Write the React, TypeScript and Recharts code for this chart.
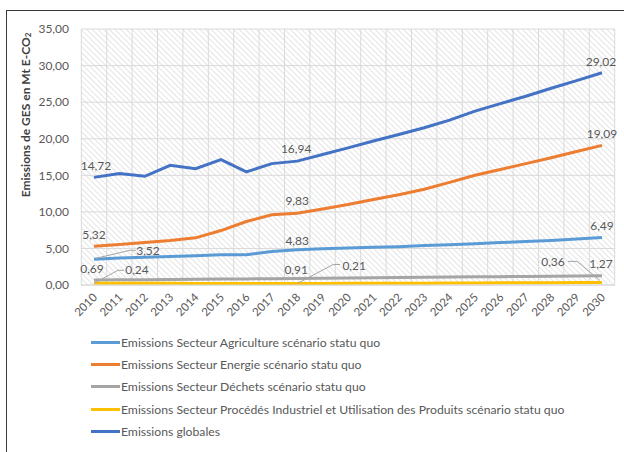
import React from 'react';
import { LineChart, Line, XAxis, YAxis, CartesianGrid, Legend, LabelList, Label } from 'recharts';

const years = [
  '2010', '2011', '2012', '2013', '2014', '2015', '2016', '2017', '2018', '2019', '2020',
  '2021', '2022', '2023', '2024', '2025', '2026', '2027', '2028', '2029', '2030',
];
const agriculture = [3.52, 3.7, 3.8, 3.9, 4.0, 4.15, 4.15, 4.6, 4.83, 4.95, 5.05, 5.15, 5.25, 5.4, 5.5, 5.65, 5.8, 5.95, 6.1, 6.3, 6.49];
const energie = [5.32, 5.53, 5.8, 6.08, 6.45, 7.45, 8.68, 9.6, 9.83, 10.4, 11.0, 11.7, 12.35, 13.1, 14.03, 15.0, 15.8, 16.6, 17.4, 18.25, 19.09];
const dechets = [0.69, 0.72, 0.74, 0.77, 0.79, 0.82, 0.84, 0.87, 0.91, 0.94, 0.97, 1.0, 1.03, 1.06, 1.09, 1.12, 1.15, 1.18, 1.21, 1.24, 1.27];
const procedes = [0.24, 0.24, 0.23, 0.23, 0.22, 0.22, 0.22, 0.21, 0.21, 0.22, 0.23, 0.24, 0.25, 0.26, 0.27, 0.28, 0.3, 0.31, 0.32, 0.34, 0.36];
const globales = [14.72, 15.23, 14.86, 16.37, 15.91, 17.15, 15.46, 16.6, 16.94, 17.85, 18.75, 19.7, 20.58, 21.5, 22.54, 23.78, 24.8, 25.8, 26.9, 27.95, 29.02];
const yTicks = [0, 5, 10, 15, 20, 25, 30, 35];

const data = years.map((year, i) => ({
  year,
  agriculture: agriculture[i],
  energie: energie[i],
  dechets: dechets[i],
  procedes: procedes[i],
  globales: globales[i],
}));

const FONT = 'Lato, "Open Sans", sans-serif';
const TEXT = '#595959';
const X_PAD = 13;

// label placement per series: index -> offset of label centre, optional leader polyline
type Place = { dx: number; dy: number; leader?: number[][] };
const series: { key: string; name: string; color: string; labels: Record<number, Place> }[] = [
  {
    key: 'agriculture', name: 'Emissions Secteur Agriculture scénario statu quo', color: '#5B9BD5',
    labels: {
      0: { dx: 54, dy: -9, leader: [[2, -1], [36, -9], [42, -9]] },
      8: { dx: 0, dy: -9 },
      20: { dx: 0, dy: -12 },
    },
  },
  {
    key: 'energie', name: 'Emissions Secteur Energie scénario statu quo', color: '#ED7D31',
    labels: { 0: { dx: 0, dy: -12 }, 8: { dx: 0, dy: -13 }, 20: { dx: 0, dy: -12 } },
  },
  {
    key: 'dechets', name: 'Emissions Secteur Déchets scénario statu quo', color: '#A5A5A5',
    labels: { 0: { dx: -2, dy: -11 }, 8: { dx: -1, dy: -9 }, 20: { dx: -1, dy: -12 } },
  },
  {
    key: 'procedes', name: 'Emissions Secteur Procédés Industriel et Utilisation des Produits scénario statu quo', color: '#FFC000',
    labels: {
      0: { dx: 43, dy: -14, leader: [[0, 0], [24, -13], [30, -13]] },
      8: { dx: 57, dy: -18, leader: [[0, 0], [36, -19], [43, -19]] },
      20: { dx: -49, dy: -21, leader: [[-34, -21], [-25, -21], [-2, -2]] },
    },
  },
  {
    key: 'globales', name: 'Emissions globales', color: '#4472C4',
    labels: { 0: { dx: 2, dy: -12 }, 8: { dx: -1, dy: -13 }, 20: { dx: -1, dy: -11 } },
  },
];

const fmt = (v: number) => v.toFixed(2).replace('.', ',');

const makeLabel = (places: Record<number, Place>) => (props: any) => {
  const place = places[props.index];
  if (!place) return null;
  const x = props.x ?? props.viewBox?.x;
  const y = props.y ?? props.viewBox?.y;
  return (
    <g>
      {place.leader && (
        <polyline
          points={place.leader.map(([lx, ly]) => `${x + lx},${y + ly}`).join(' ')}
          fill="none"
          stroke="#A5A5A5"
          strokeWidth={1}
        />
      )}
      <text
        x={x + place.dx}
        y={y + place.dy}
        textAnchor="middle"
        dominantBaseline="central"
        fontFamily={FONT}
        fontSize={12}
        fill={TEXT}
      >
        {fmt(props.value)}
      </text>
    </g>
  );
};

const YearTick = (props: any) => {
  const { x, y, payload } = props;
  const ax = x + 4;
  const ay = y + 13;
  return (
    <text
      x={ax}
      y={ay}
      transform={`rotate(-45 ${ax} ${ay})`}
      textAnchor="end"
      fontFamily={FONT}
      fontSize={11.5}
      fill={TEXT}
    >
      {payload.value}
    </text>
  );
};

// vertical grid lines sit on category boundaries, between the points
const verticalLines = ({ xAxis, offset }: any) => {
  const s = xAxis?.scale;
  let pos: (i: number) => number;
  if (typeof s === 'function') pos = (i) => s(years[i]);
  else if (s && typeof s.map === 'function') pos = (i) => s.map(years[i]);
  else {
    const step0 = (offset.width - 2 * X_PAD) / (years.length - 1);
    pos = (i) => offset.left + X_PAD + i * step0;
  }
  const step = pos(1) - pos(0);
  const pts = years.map((_, i) => pos(i) - step / 2);
  pts.push(pos(years.length - 1) + step / 2);
  return pts;
};

const LegendList = () => (
  <div style={{ fontFamily: FONT, fontSize: 12.2, color: TEXT }}>
    {series.map((s) => (
      <div key={s.key} style={{ display: 'flex', alignItems: 'center', height: 22.4 }}>
        <span style={{ display: 'inline-block', width: 29, height: 3, background: s.color }} />
        <span style={{ marginLeft: 1 }}>{s.name}</span>
      </div>
    ))}
  </div>
);

export default function App() {
  return (
    <div style={{ position: 'fixed', left: 0, top: 0, width: 624, height: 452, overflow: 'hidden', background: '#fff' }}>
      <div
        style={{
          position: 'absolute', left: 6, top: 10, width: 700, height: 600,
          borderTop: '1.5px solid #3a3a3a', borderLeft: '1.5px solid #3a3a3a', boxSizing: 'border-box',
        }}
      />
      <LineChart
        width={616}
        height={444}
        data={data}
        margin={{ top: 21, right: 9, left: 5, bottom: 15 }}
        style={{ position: 'absolute', left: 8, top: 8 }}
      >
        <defs>
          <pattern id="hatch" width="4" height="4" patternUnits="userSpaceOnUse" patternTransform="rotate(-45)">
            <line x1="0" y1="0" x2="0" y2="4" stroke="#d6d6d6" strokeWidth="1.3" />
          </pattern>
        </defs>
        <CartesianGrid
          fill="url(#hatch)"
          fillOpacity={1}
          stroke="#dadada"
          strokeWidth={1}
          verticalCoordinatesGenerator={verticalLines}
        />
        <XAxis
          dataKey="year"
          height={40}
          interval={0}
          padding={{ left: X_PAD, right: X_PAD }}
          axisLine={{ stroke: '#d9d9d9' }}
          tickLine={false}
          tickSize={0}
          tickMargin={0}
          tick={<YearTick />}
        />
        <YAxis
          width={68}
          domain={[0, 35]}
          ticks={yTicks}
          interval={0}
          axisLine={false}
          tickLine={false}
          tickMargin={6}
          tickFormatter={fmt}
          tick={{ fontFamily: FONT, fontSize: 12, fill: TEXT }}
        >
          <Label
            content={(p: any) => {
              const cx = (p.viewBox?.x ?? 5) + 12;
              const cy = 107;
              return (
                <text
                  x={cx}
                  y={cy}
                  transform={`rotate(-90 ${cx} ${cy})`}
                  textAnchor="middle"
                  dominantBaseline="central"
                  fontFamily={FONT}
                  fontWeight="bold"
                  fontSize={12}
                  fill="#404040"
                >
                  Emissions de GES en Mt E-CO<tspan fontSize={8} dy={3}>2</tspan>
                </text>
              );
            }}
          />
        </YAxis>
        <Legend
          verticalAlign="bottom"
          layout="horizontal"
          content={<LegendList />}
          wrapperStyle={{ left: 83, top: 323, width: 520 }}
        />
        {series.map((s) => (
          <Line
            key={s.key}
            type="linear"
            dataKey={s.key}
            name={s.name}
            stroke={s.color}
            strokeWidth={3}
            dot={false}
            activeDot={false}
            isAnimationActive={false}
          >
            <LabelList dataKey={s.key} content={makeLabel(s.labels)} />
          </Line>
        ))}
      </LineChart>
    </div>
  );
}
